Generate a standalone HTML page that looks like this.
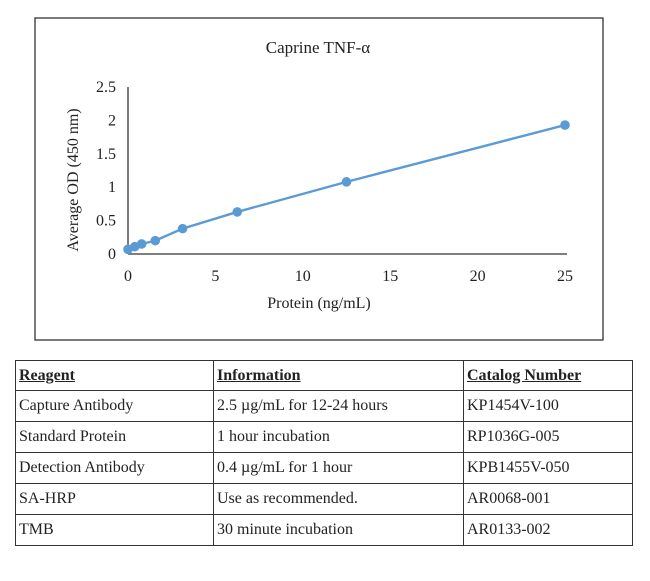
<!DOCTYPE html>
<html><head><meta charset="utf-8"><style>
body{margin:0;width:650px;height:581px;background:#fff;font-family:"Liberation Serif",serif;position:relative;overflow:hidden}
svg{position:absolute;left:0;top:0}
text{font-family:"Liberation Serif",serif;fill:#222}
table{position:absolute;left:15px;top:360px;border-collapse:collapse;font-size:16px;color:#222}
td{border:1.3px solid #333;padding:0 3px;height:30px;vertical-align:middle;white-space:nowrap}
th{border:1.3px solid #333;padding:0 3px;height:29px;text-align:left;font-weight:bold;text-decoration:underline;font-size:16px}
</style></head><body>
<svg width="650" height="360">
<rect x="35" y="18" width="568" height="322" fill="#fff" stroke="#333" stroke-width="1.3"/>
<text x="318" y="53" font-size="17" text-anchor="middle">Caprine TNF-α</text>
<g id="axes"></g>
<g id="series"></g>
<text x="319" y="308" font-size="16" text-anchor="middle">Protein (ng/mL)</text>
<text transform="translate(78,180) rotate(-90)" font-size="16" text-anchor="middle">Average OD (450 nm)</text>
</svg>
<table>
<tr><th style="width:191px">Reagent</th><th style="width:243px">Information</th><th style="width:162px">Catalog Number</th></tr>
<tr><td>Capture Antibody</td><td>2.5 µg/mL for 12-24 hours</td><td>KP1454V-100</td></tr>
<tr><td>Standard Protein</td><td>1 hour incubation</td><td>RP1036G-005</td></tr>
<tr><td>Detection Antibody</td><td>0.4 µg/mL for 1 hour</td><td>KPB1455V-050</td></tr>
<tr><td>SA-HRP</td><td>Use as recommended.</td><td>AR0068-001</td></tr>
<tr><td>TMB</td><td>30 minute incubation</td><td>AR0133-002</td></tr>
</table>
<script>
const xValues=[0,0.39,0.78,1.56,3.125,6.25,12.5,25];
const yValues=[0.07,0.11,0.15,0.2,0.38,0.63,1.08,1.93];
const xTicks=[0,5,10,15,20,25];
const yTicks=[0,0.5,1,1.5,2,2.5];
const NS="http://www.w3.org/2000/svg";
const X=v=>128+v*17.48, Y=v=>254-v*66.8;
function mk(t,a,p){const e=document.createElementNS(NS,t);for(const k in a)e.setAttribute(k,a[k]);p.appendChild(e);return e;}
const ax=document.getElementById('axes'),se=document.getElementById('series');
let l=mk('line',{x1:X(0),y1:Y(0),x2:X(25)+2,y2:Y(0),stroke:'#333','stroke-width':1.3},ax);


l=mk('line',{x1:X(0),y1:Y(0),x2:X(0),y2:Y(2.5),stroke:'#333','stroke-width':1.3},ax);


xTicks.forEach(v=>{const t=mk('text',{x:X(v),y:281,'font-size':16,'text-anchor':'middle'},ax);t.textContent=v;

});
yTicks.forEach(v=>{const t=mk('text',{x:116,y:Y(v)+5,'font-size':16,'text-anchor':'end'},ax);t.textContent=v;

});
const pl=mk('polyline',{points:xValues.map((x,i)=>X(x)+','+Y(yValues[i])).join(' '),fill:'none',stroke:'#5b9bd5','stroke-width':2.4},se);


xValues.forEach((x,i)=>{const c=mk('circle',{cx:X(x),cy:Y(yValues[i]),r:4.8,fill:'#5b9bd5'},se);

});
</script>
</body></html>
